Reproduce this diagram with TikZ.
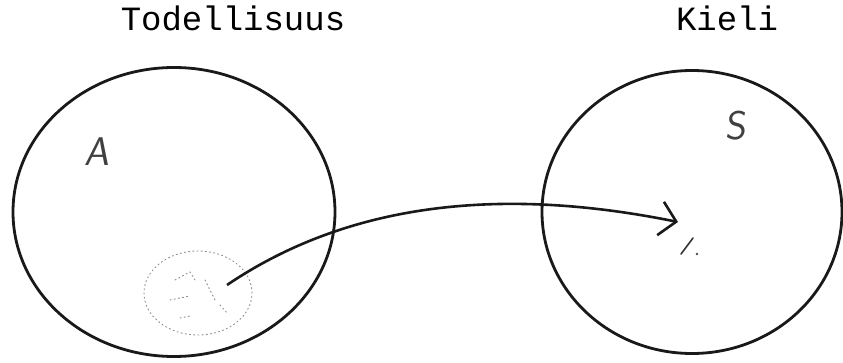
\documentclass[tikz,border=0pt]{standalone}
\usepackage{fontspec}
\setmonofont{Liberation Mono}
\usetikzlibrary{shapes.geometric,arrows.meta}
\tikzset{
  circ/.style={draw=black!90, line width=2.8pt, ellipse, inner sep=0pt},
  title/.style={font=\ttfamily\fontsize{34}{34}\selectfont, anchor=base},
  hand/.style={font=\sffamily\fontsize{40}{40}\selectfont, text=black!75},
  faint/.style={draw=black!45, line width=0.9pt, dash pattern=on 1.2pt off 3pt, line cap=round},
  conn/.style={draw=black!90, line width=2.6pt, -{Straight Barb[length=16pt,width=34pt,line width=2.6pt]}},
}
\begin{document}
\begin{tikzpicture}[x=1pt,y=-1pt]
\useasboundingbox (0,0) rectangle (843,363);
\node[title] (t1) at (233,31) {Todellisuus};
\node[title] (t2) at (727,31) {Kieli};
\node[circ, minimum width=322pt, minimum height=289pt] (L) at (174,212) {};
\node[circ, minimum width=300pt, minimum height=283pt] (R) at (692,212) {};
\node[hand, xslant=0.15] (A) at (99,152) {A};
\node[hand, xslant=0.1] (S) at (737,126) {S};
\node[faint, ellipse, minimum width=108pt, minimum height=84pt] (a) at (198,293) {};
\draw[faint] (175,280) -- (190,272) -- (195,280) (170,300) -- (190,296) (205,280) -- (215,300) (180,318) -- (190,316) (220,305) -- (228,314);
\coordinate (s) at (227,285);
\coordinate (e) at (678,222);
\draw[conn] (s) .. controls (360,195) and (520,190) .. (e);
\draw[black!80, line width=1.6pt, line cap=round] (681,254) -- (693,238);
\fill[black!70] (697,254) circle (1.3pt);
\end{tikzpicture}
\end{document}
